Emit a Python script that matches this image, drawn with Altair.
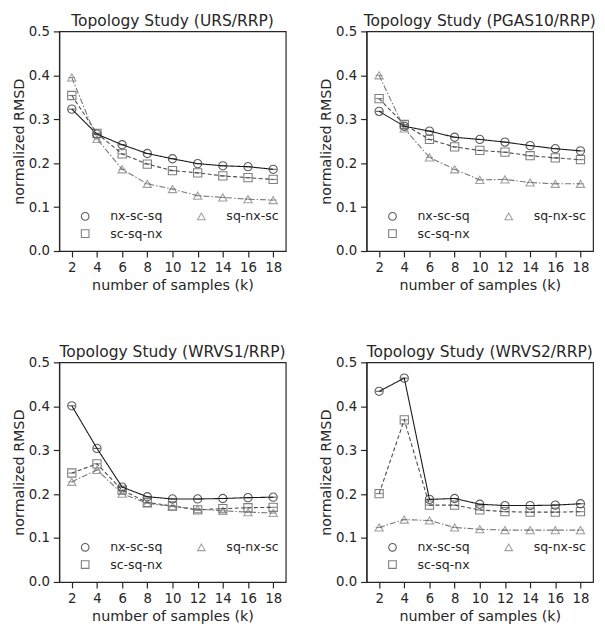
import altair as alt
import pandas as pd

k_values = [2, 4, 6, 8, 10, 12, 14, 16, 18]
series_names = ["nx-sc-sq", "sc-sq-nx", "sq-nx-sc"]

titles = [
    "Topology Study (URS/RRP)",
    "Topology Study (PGAS10/RRP)",
    "Topology Study (WRVS1/RRP)",
    "Topology Study (WRVS2/RRP)",
]

urs_nx = [0.323, 0.266, 0.242, 0.222, 0.210, 0.199, 0.194, 0.192, 0.186]
urs_sc = [0.354, 0.268, 0.221, 0.198, 0.183, 0.178, 0.171, 0.167, 0.163]
urs_sq = [0.395, 0.255, 0.186, 0.153, 0.141, 0.126, 0.122, 0.118, 0.116]

pgas_nx = [0.318, 0.284, 0.273, 0.259, 0.254, 0.248, 0.240, 0.233, 0.228]
pgas_sc = [0.347, 0.288, 0.254, 0.237, 0.229, 0.225, 0.217, 0.212, 0.208]
pgas_sq = [0.400, 0.279, 0.213, 0.186, 0.162, 0.163, 0.156, 0.153, 0.153]

wrvs1_nx = [0.401, 0.304, 0.216, 0.194, 0.189, 0.189, 0.190, 0.192, 0.193]
wrvs1_sc = [0.248, 0.269, 0.209, 0.181, 0.173, 0.164, 0.167, 0.169, 0.170]
wrvs1_sq = [0.228, 0.255, 0.201, 0.179, 0.172, 0.166, 0.162, 0.159, 0.157]

wrvs2_nx = [0.434, 0.464, 0.188, 0.190, 0.177, 0.174, 0.174, 0.175, 0.178]
wrvs2_sc = [0.201, 0.369, 0.175, 0.175, 0.164, 0.160, 0.159, 0.159, 0.160]
wrvs2_sq = [0.124, 0.142, 0.140, 0.124, 0.120, 0.118, 0.118, 0.118, 0.118]

panels = [
    (urs_nx, urs_sc, urs_sq),
    (pgas_nx, pgas_sc, pgas_sq),
    (wrvs1_nx, wrvs1_sc, wrvs1_sq),
    (wrvs2_nx, wrvs2_sc, wrvs2_sq),
]

INK = "#262626"
FONT = "DejaVu Sans"
series_colors = ["#1a1a1a", "#4a4a4a", "#7a7a7a"]
series_dashes = [[1, 0], [4, 2.5], [6, 2, 1.5, 2]]
color_scale = alt.Scale(domain=series_names, range=series_colors)
stroke_scale = alt.Scale(domain=series_names, range=series_colors)
shape_scale = alt.Scale(domain=series_names, range=["circle", "square", "triangle-up"])

x_enc = alt.X("k:Q", scale=alt.Scale(domain=[1, 19], nice=False),
              axis=alt.Axis(values=k_values, title="number of samples (k)", grid=False,
                            labelPadding=4, titlePadding=5))
y_enc = alt.Y("v:Q", scale=alt.Scale(domain=[0, 0.5], nice=False),
              axis=alt.Axis(values=[0, 0.1, 0.2, 0.3, 0.4, 0.5], format=".1f",
                            title="normalized RMSD", grid=False,
                            labelPadding=4, titlePadding=2))

legend = alt.Legend(title=None, orient="none", legendX=20, legendY=181,
                    columns=2, columnPadding=33, rowPadding=4,
                    labelOffset=19, symbolSize=60, symbolStrokeWidth=1.1,
                    symbolFillColor="transparent",
                    labelFontSize=12.7, labelFont=FONT, labelColor=INK)


def make_panel(title, nx, sc, sq):
    rows = []
    for name, vals in zip(series_names, [nx, sc, sq]):
        for k, v in zip(k_values, vals):
            rows.append({"k": k, "series": name, "ls": name, "v": v})
    df = pd.DataFrame(rows)
    base = alt.Chart(df)
    pts = base.mark_point(filled=False, size=70, strokeWidth=1.1).encode(
        x=x_enc, y=y_enc,
        color=alt.Color("series:N", scale=color_scale, legend=legend),
        shape=alt.Shape("series:N", scale=shape_scale, legend=legend),
    )
    lines = [
        base.transform_filter(alt.datum.ls == name).mark_line(
            strokeWidth=1.1, color=col, strokeDash=dash
        ).encode(x=x_enc, y=y_enc)
        for name, col, dash in zip(series_names, series_colors, series_dashes)
    ]
    caps = base.mark_point(shape="M-1,0L1,0", filled=False, size=49, strokeWidth=1.1).encode(
        x=x_enc, y=y_enc,
        stroke=alt.Stroke("ls:N", scale=stroke_scale, legend=None),
    )
    return alt.layer(pts, *lines, caps).properties(
        width=230, height=223,
        title=alt.TitleParams(title, fontSize=15.7, font=FONT, fontWeight="normal",
                              color=INK, offset=-5),
    )


charts = [make_panel(t, *p) for t, p in zip(titles, panels)]

res = dict(color="independent", shape="independent", stroke="independent")

row1 = alt.hconcat(charts[0], charts[1], spacing=31).resolve_scale(**res).resolve_legend(
    color="independent", shape="independent")
row2 = alt.hconcat(charts[2], charts[3], spacing=31).resolve_scale(**res).resolve_legend(
    color="independent", shape="independent")

chart = alt.vconcat(row1, row2, spacing=50).resolve_scale(**res).resolve_legend(
    color="independent", shape="independent",
).properties(
    padding={"left": 2, "top": -1, "right": 0, "bottom": 0},
).configure_view(
    stroke=INK, strokeWidth=1.2,
).configure_axis(
    labelFont=FONT, titleFont=FONT, labelFontSize=13.5, titleFontSize=14.5,
    labelColor=INK, titleColor=INK, titleFontWeight="normal",
    domainColor=INK, tickColor=INK, tickSize=6,
    domainWidth=1.2, tickWidth=1.2,
)

chart.save("out.html", embed_options={"renderer": "svg", "actions": False})
